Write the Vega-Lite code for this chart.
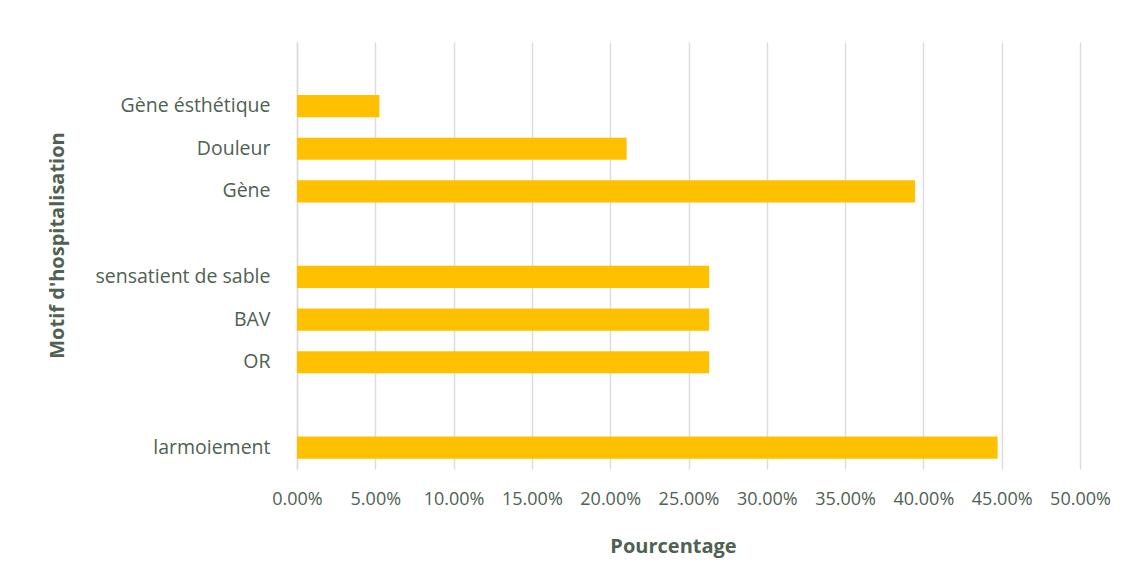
{
  "$schema": "https://vega.github.io/schema/vega-lite/v6.json",
  "width": 783,
  "height": 427,
  "autosize": {"type": "none"},
  "padding": {"left": 297, "top": 42, "right": 49, "bottom": 101},
  "background": "white",
  "data": {
    "values": [
      {"motif": "Gène ésthétique", "pct": 0.0526},
      {"motif": "Douleur", "pct": 0.2105},
      {"motif": "Gène\u00a0", "pct": 0.3947},
      {"motif": "sensatient de sable\u00a0", "pct": 0.2632},
      {"motif": "BAV", "pct": 0.2632},
      {"motif": "OR", "pct": 0.2632},
      {"motif": "larmoiement\u00a0", "pct": 0.4474}
    ]
  },
  "mark": {"type": "bar", "color": "#FFC000"},
  "encoding": {
    "y": {
      "field": "motif",
      "type": "nominal",
      "scale": {
        "domain": [" ", "Gène ésthétique", "Douleur", "Gène\u00a0", "  ", "sensatient de sable\u00a0", "BAV", "OR", "   ", "larmoiement\u00a0"],
        "paddingInner": 0.48,
        "paddingOuter": 0.24
      },
      "axis": {
        "title": "Motif d'hospitalisation",
        "titleFont": "Open Sans",
        "titleFontSize": 20,
        "titleFontWeight": "bold",
        "titleColor": "#4e6152",
        "titleX": -240,
        "titleY": 203,
        "titleAngle": -90,
        "titleAlign": "center",
        "titleBaseline": "middle",
        "labelFont": "Open Sans",
        "labelFontSize": 19.5,
        "labelColor": "#4e6152",
        "labelPadding": 27,
        "ticks": false,
        "domain": true,
        "domainColor": "#d9dedb",
        "domainWidth": 1.5,
        "grid": false
      }
    },
    "x": {
      "field": "pct",
      "type": "quantitative",
      "scale": {"domain": [0, 0.5], "nice": false},
      "axis": {
        "title": "Pourcentage",
        "titleFont": "Open Sans",
        "titleFontSize": 20,
        "titleFontWeight": "bold",
        "titleColor": "#4e6152",
        "titleX": 376,
        "titleY": 77,
        "titleBaseline": "middle",
        "titleAlign": "center",
        "format": ".2%",
        "values": [0, 0.05, 0.1, 0.15, 0.2, 0.25, 0.3, 0.35, 0.4, 0.45, 0.5],
        "labelFont": "Open Sans",
        "labelFontSize": 18,
        "labelColor": "#4e6152",
        "labelPadding": 30,
        "labelBaseline": "middle",
        "labelFlush": false,
        "labelOverlap": false,
        "ticks": false,
        "domain": false,
        "grid": true,
        "gridColor": "#d9dedb",
        "gridWidth": 1.5
      }
    }
  },
  "config": {"view": {"stroke": null}}
}
